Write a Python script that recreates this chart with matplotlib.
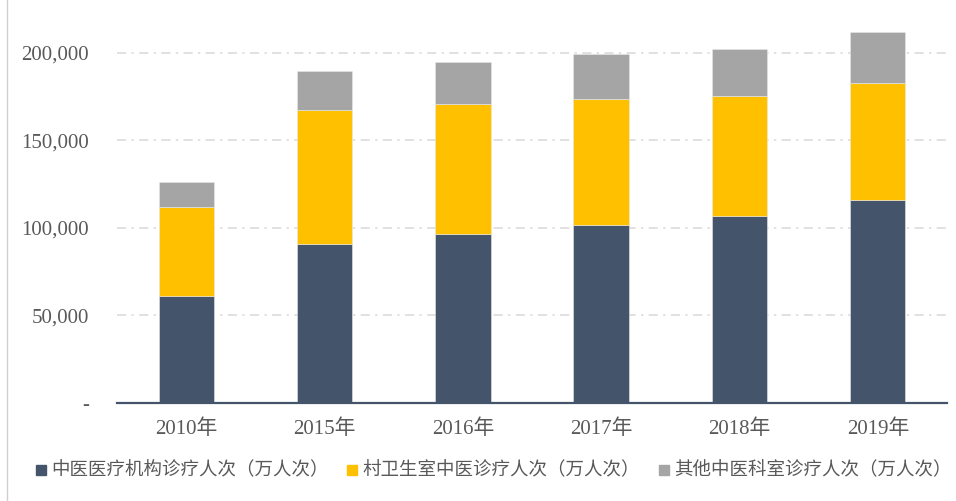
import matplotlib
matplotlib.use("Agg")
import matplotlib.pyplot as plt
from matplotlib.lines import Line2D
from matplotlib.patches import Rectangle

years = ["2010年", "2015年", "2016年", "2017年", "2018年", "2019年"]
inst = [60800, 90700, 96400, 101700, 106700, 116000]
village = [50900, 76600, 74300, 71800, 68600, 66500]
other = [14600, 22200, 24000, 25500, 26600, 29200]
series_names = ["中医医疗机构诊疗人次（万人次）", "村卫生室中医诊疗人次（万人次）", "其他中医科室诊疗人次（万人次）"]
colors = ["#44546A", "#FFC000", "#A5A5A5"]
yticks = [0, 50000, 100000, 150000, 200000]
ytick_labels = ["-", "50,000", "100,000", "150,000", "200,000"]

W, H = 956, 501
fig = plt.figure(figsize=(W / 100, H / 100), dpi=100)
ax = fig.add_axes([117 / W, (H - 402.7) / H, 830 / W, 385 / H])

x = list(range(len(years)))
bottom2 = [a + b for a, b in zip(inst, village)]
ax.bar(x, inst, width=0.40, color=colors[0], zorder=3, edgecolor="#E8E8E8", linewidth=0.4)
ax.bar(x, village, bottom=inst, width=0.40, color=colors[1], zorder=3, edgecolor="#E8E8E8", linewidth=0.4)
ax.bar(x, other, bottom=bottom2, width=0.40, color=colors[2], zorder=3, edgecolor="#E8E8E8", linewidth=0.4)

ax.set_xlim(-0.5, len(years) - 0.5)
ax.set_ylim(0, 220000)

for t in yticks[1:]:
    ax.axhline(t, color="#D9D9D9", linewidth=1.1, dashes=(6, 3.5, 1.5, 3.5), zorder=1)

for s in ["top", "right", "left"]:
    ax.spines[s].set_visible(False)
ax.spines["bottom"].set_color("#44546A")
ax.spines["bottom"].set_linewidth(1.6)
ax.spines["bottom"].set_zorder(4)

ax.set_yticks(yticks)
ax.set_yticklabels(ytick_labels, fontsize=15, color="#595959", family=["Liberation Serif", "Noto Sans CJK SC"])
ax.set_xticks(x)
ax.set_xticklabels(years, fontsize=15, color="#595959", family=["Liberation Serif", "Noto Sans CJK SC"])
ax.tick_params(axis="both", length=0)
ax.tick_params(axis="y", pad=20)
ax.tick_params(axis="x", pad=12)

# Legend
leg_x = [36, 347, 659]
leg_y = 470
for lx, name, c in zip(leg_x, series_names, colors):
    fig.add_artist(Rectangle(((lx) / W, (H - leg_y - 5) / H), 10 / W, 10 / H,
                             transform=fig.transFigure, color=c))
    fig.text((lx + 15) / W, (H - leg_y) / H, name, fontsize=13.3, color="#595959",
             va="center", ha="left", family=["Noto Sans CJK SC", "DejaVu Sans"])

# left frame line
fig.add_artist(Line2D([6.5 / W, 6.5 / W], [0, 1], transform=fig.transFigure, color="#D0D0D0", linewidth=1))

fig.savefig("out.png", dpi=100)
